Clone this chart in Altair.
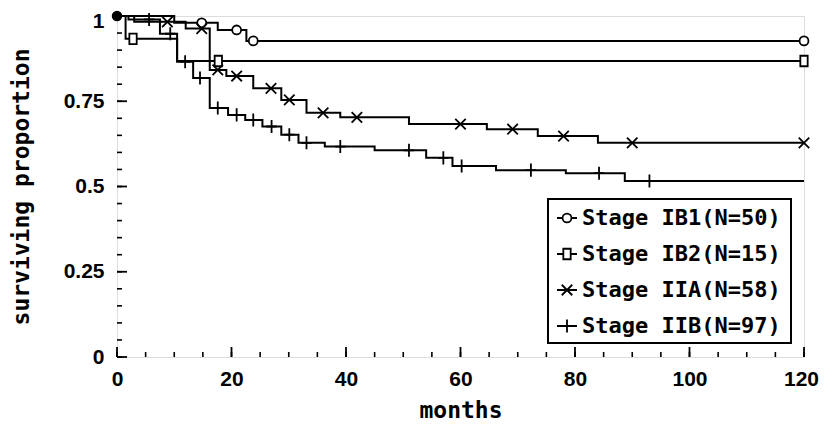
import altair as alt
import pandas as pd
import numpy as np

# ---------------- data ----------------
series_names = ["Stage IB1(N=50)", "Stage IB2(N=15)", "Stage IIA(N=58)", "Stage IIB(N=97)"]

ib1_t = [0, 10, 17.6, 22.6, 120]
ib1_s = [1, 0.980, 0.959, 0.927, 0.927]
ib1_c = [14.8, 20.9, 23.8, 120]

ib2_t = [0, 1.5, 10.5, 120]
ib2_s = [1, 0.933, 0.868, 0.868]
ib2_c = [2.8, 17.7, 120]

iia_t = [0, 3, 12, 16.2, 19.1, 23.8, 28.7, 33.1, 39, 51, 64.6, 73.5, 84, 120]
iia_s = [1, 0.983, 0.963, 0.842, 0.824, 0.788, 0.754, 0.716, 0.703, 0.683, 0.668, 0.648, 0.628, 0.628]
iia_c = [8.8, 14.8, 17.6, 20.9, 26.9, 30.1, 36, 41.9, 60, 69.1, 78, 90, 120]

iib_t = [0, 2, 7.5, 10.5, 13.3, 16.2, 19.4, 22.4, 25.4, 28.7, 31.7, 36.3, 45, 54, 58.6, 66.2, 78.4, 88.7, 120]
iib_s = [1, 0.99, 0.948, 0.866, 0.818, 0.730, 0.710, 0.695, 0.676, 0.652, 0.628, 0.617, 0.606, 0.584, 0.560, 0.548, 0.539, 0.516, 0.516]
iib_c = [5.6, 9.3, 11.9, 14.5, 17.6, 20.9, 23.8, 27, 30.1, 33.1, 39, 51, 57, 60.2, 72.3, 84.2, 93]

x_labels = [0, 20, 40, 60, 80, 100, 120]
x_minor = list(range(0, 121, 5))
y_labels = [0, 0.25, 0.5, 0.75, 1]
y_minor = [round(v, 2) for v in np.arange(0, 1.0001, 0.05)]

# ---------------- styling ----------------
W, H = 687, 341
LABEL_FONT = "Liberation Sans"
MONO = "DejaVu Sans Mono"

path_square = "M-0.7,-1H0.7V1H-0.7Z"
path_x = "M-1,-1L1,1M-1,1L1,-1"
path_plus = "M-0.8,0H0.8M0,-1V1"

series = [
    (series_names[0], ib1_t, ib1_s, ib1_c, "circle", 80, True),
    (series_names[1], ib2_t, ib2_s, ib2_c, path_square, 110, True),
    (series_names[2], iia_t, iia_s, iia_c, path_x, 110, False),
    (series_names[3], iib_t, iib_s, iib_c, path_plus, 170, False),
]


def step_value(ts, ss, t):
    v = ss[0]
    for ti, si in zip(ts, ss):
        if ti <= t:
            v = si
    return v


x_enc = alt.X(
    "month:Q",
    scale=alt.Scale(domain=[0, 120], nice=False, zero=False),
    axis=alt.Axis(
        values=x_labels, format="d", ticks=False, domain=False, grid=False,
        labelFont=LABEL_FONT, labelFontWeight="bold", labelFontSize=21,
        labelColor="black", labelPadding=11, labelFlush=False, labelOverlap=False,
        labelOffset={"condition": {"test": "datum.value == 120", "value": -3}, "value": 0},
        title="months", titleFont=MONO, titleFontSize=23, titleFontWeight="bold",
        titleColor="black", titlePadding=10,
    ),
)
y_enc = alt.Y(
    "surv:Q",
    scale=alt.Scale(domain=[0, 1], nice=False, zero=False),
    axis=alt.Axis(
        values=y_labels, format=".2~f", ticks=False, domain=False, grid=False,
        labelFont=LABEL_FONT, labelFontWeight="bold", labelFontSize=21,
        labelColor="black", labelPadding=13, labelOverlap=False,
        labelOffset={"condition": {"test": "datum.value == 1", "value": 5}, "value": 0},
        title="surviving proportion", titleFont=MONO, titleFontSize=23,
        titleFontWeight="bold", titleColor="black", titlePadding=30,
    ),
)

layers = []

# step curves
line_rows = []
for name, ts, ss, cs, shp, sz, filled_white in series:
    for t, s in zip(ts, ss):
        line_rows.append({"month": t, "surv": s, "series": name})
line_df = pd.DataFrame(line_rows)
layers.append(
    alt.Chart(line_df).mark_line(interpolate="step-after", color="black", strokeWidth=2)
    .encode(x=x_enc, y=y_enc, detail="series:N")
)

# censor markers
for name, ts, ss, cs, shp, sz, filled_white in series:
    cdf = pd.DataFrame({"month": cs, "surv": [step_value(ts, ss, c) for c in cs]})
    layers.append(
        alt.Chart(cdf).mark_point(
            shape=shp, size=sz, stroke="black", strokeWidth=1.8,
            fill="white" if filled_white else None, filled=False,
            fillOpacity=1 if filled_white else 0, opacity=1,
        ).encode(x=x_enc, y=y_enc)
    )

# common starting dot
start_df = pd.DataFrame({"month": [ib1_t[0]], "surv": [ib1_s[0]]})
layers.append(
    alt.Chart(start_df).mark_point(shape="circle", size=110, filled=True, color="black", opacity=1)
    .encode(x=x_enc, y=y_enc)
)

# inward tick marks
ymaj = pd.DataFrame({"surv": y_labels})
ymin = pd.DataFrame({"surv": y_minor})
xmaj = pd.DataFrame({"month": x_labels})
xmin = pd.DataFrame({"month": x_minor})
layers.append(alt.Chart(ymin).mark_rule(color="black", strokeWidth=1.6)
              .encode(y=y_enc, x=alt.value(0), x2=alt.value(5)))
layers.append(alt.Chart(ymaj).mark_rule(color="black", strokeWidth=1.8)
              .encode(y=y_enc, x=alt.value(0), x2=alt.value(10)))
layers.append(alt.Chart(xmin).mark_rule(color="black", strokeWidth=1.6)
              .encode(x=x_enc, y=alt.value(H), y2=alt.value(H - 5)))
layers.append(alt.Chart(xmaj).mark_rule(color="black", strokeWidth=1.8)
              .encode(x=x_enc, y=alt.value(H), y2=alt.value(H - 10)))

# legend (drawn from the series list)
box_df = pd.DataFrame({"k": [0]})
layers.append(
    alt.Chart(box_df).mark_rect(fill="white", stroke="black", strokeWidth=2)
    .encode(x=alt.value(431), x2=alt.value(674), y=alt.value(183), y2=alt.value(327))
)
for i, (name, ts, ss, cs, shp, sz, filled_white) in enumerate(series):
    ry = 202 + 36 * i
    row = pd.DataFrame({"label": [name]})
    layers.append(alt.Chart(row).mark_rule(color="black", strokeWidth=2)
                  .encode(x=alt.value(440), x2=alt.value(460), y=alt.value(ry)))
    layers.append(alt.Chart(row).mark_point(
        shape=shp, size=sz, stroke="black", strokeWidth=1.8,
        fill="white" if filled_white else None, filled=False,
        fillOpacity=1 if filled_white else 0, opacity=1,
    ).encode(x=alt.value(450), y=alt.value(ry)))
    layers.append(alt.Chart(row).mark_text(
        align="left", baseline="middle", font=MONO, fontSize=22, fontWeight="bold", color="black"
    ).encode(x=alt.value(465), y=alt.value(ry), text="label:N"))

chart = alt.layer(*layers).properties(
    width=W, height=H,
    autosize=alt.AutoSizeParams(type="none"),
    padding={"left": 109, "top": 8, "right": 15, "bottom": 66},
).configure_view(stroke="black", strokeWidth=2).configure(background="white")

chart.save("out.html", embed_options={"renderer": "svg", "actions": False})
